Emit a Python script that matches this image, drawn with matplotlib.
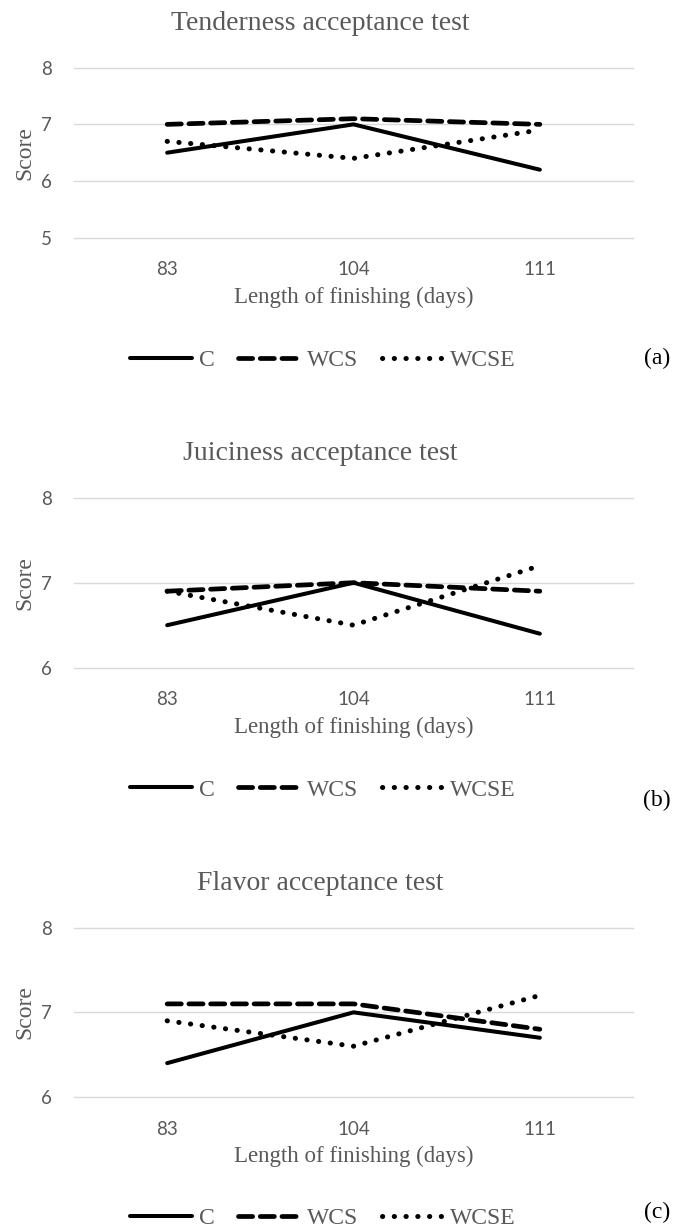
import matplotlib
matplotlib.use("Agg")
import matplotlib.pyplot as plt

# data
days = ["83", "104", "111"]
series_names = ["C", "WCS", "WCSE"]

tender_c = [6.5, 7.0, 6.2]
tender_wcs = [7.0, 7.1, 7.0]
tender_wcse = [6.7, 6.4, 6.9]

juicy_c = [6.5, 7.0, 6.4]
juicy_wcs = [6.9, 7.0, 6.9]
juicy_wcse = [6.9, 6.5, 7.2]

flavor_c = [6.4, 7.0, 6.7]
flavor_wcs = [7.1, 7.1, 6.8]
flavor_wcse = [6.9, 6.6, 7.2]

titles = ["Tenderness acceptance test", "Juiciness acceptance test", "Flavor acceptance test"]
panel_tags = ["(a)", "(b)", "(c)"]
y_limits = [(5, 8), (6, 8), (6, 8)]

W, H = 690, 1228
GRAY = "#595959"
SERIF = "Liberation Serif"
SANS = "Lato"

# pixel boxes: (top of axes, bottom of axes, title y, legend y, tag y)
boxes = [(67.7, 237.7, 23, 360, 358),
         (497.7, 667.7, 453, 790, 800),
         (927.7, 1097.0, 883, 1218, 1212)]

styles = [dict(linestyle="-", linewidth=2.9, solid_capstyle="round"),
          dict(linestyle=(0, (3.0, 1.6)), linewidth=3.4, dash_capstyle="round"),
          dict(linestyle=(0, (0.05, 2.3)), linewidth=3.6, dash_capstyle="round")]

fig = plt.figure(figsize=(W / 100, H / 100), dpi=100)
panels = [(tender_c, tender_wcs, tender_wcse),
          (juicy_c, juicy_wcs, juicy_wcse),
          (flavor_c, flavor_wcs, flavor_wcse)]

x = list(range(len(days)))
for i, vals in enumerate(panels):
    top, bot, ty, ly, tgy = boxes[i]
    ax = fig.add_axes([74 / W, 1 - bot / H, 559 / W, (bot - top) / H])
    for v, name, st in zip(vals, series_names, styles):
        ax.plot(x, v, color="black", label=name, **st)
    lo, hi = y_limits[i]
    ax.set_ylim(lo, hi)
    ax.set_yticks(range(lo, hi + 1))
    ax.set_xlim(-0.5, 2.5)
    ax.set_xticks(x)
    ax.set_xticklabels(days)
    ax.yaxis.grid(True, color="#d9d9d9", linewidth=1.0)
    for gl in ax.get_ygridlines():
        gl.set_clip_on(False)
    ax.set_axisbelow(True)
    for s in ax.spines.values():
        s.set_visible(False)
    ax.tick_params(length=0, labelsize=13.5, labelcolor=GRAY)
    ax.tick_params(axis="y", pad=16)
    ax.tick_params(axis="x", pad=17)
    for lab in ax.get_xticklabels() + ax.get_yticklabels():
        lab.set_fontfamily(SANS)
    ax.set_ylabel("Score", family=SERIF, fontsize=17, color=GRAY, labelpad=4)
    ax.set_xlabel("Length of finishing (days)", family=SERIF, fontsize=16.5,
                  color=GRAY, labelpad=6)
    fig.text(320 / W, 1 - ty / H, titles[i], ha="center", va="center",
             family=SERIF, fontsize=20, color=GRAY)
    ax.legend(loc="center", bbox_to_anchor=(323 / W, 1 - ly / H),
              bbox_transform=fig.transFigure, ncol=3, frameon=False,
              handlelength=2.6, handletextpad=0.3, columnspacing=1.0,
              prop={"family": SERIF, "size": 17}, labelcolor=GRAY)
    fig.text(657 / W, 1 - tgy / H, panel_tags[i], ha="center", va="center",
             family=SERIF, fontsize=17, color="black")

fig.savefig("out.png", dpi=100)
